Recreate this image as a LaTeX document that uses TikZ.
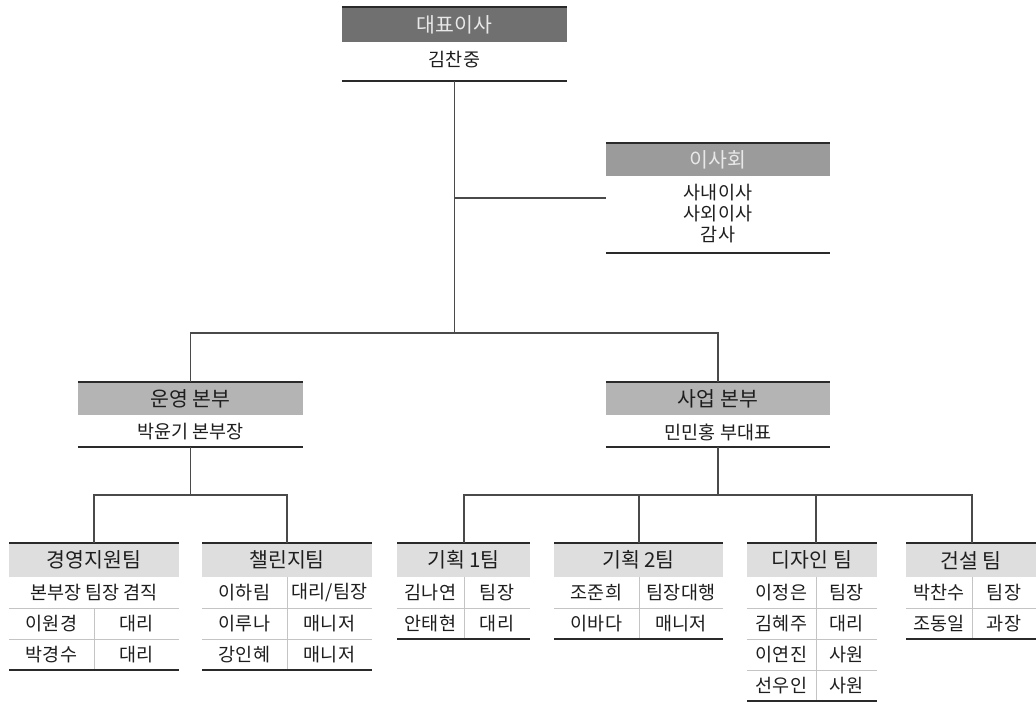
\documentclass[tikz,border=0pt]{standalone}
\usepackage{fontspec}
\setmainfont{Noto Sans CJK KR}
\definecolor{bandA}{HTML}{707070}
\definecolor{bandB}{HTML}{9B9B9B}
\definecolor{bandC}{HTML}{B4B4B4}
\definecolor{bandD}{HTML}{DEDEDE}
\definecolor{lineC}{HTML}{2A2A2A}
\definecolor{connC}{HTML}{4A4A4A}
\definecolor{rowC}{HTML}{C4C4C4}
\definecolor{txtC}{HTML}{1E1E1E}
\definecolor{txtW}{HTML}{E8E8E8}
\newcommand\teamhead[5]{%
  \node[thd, minimum width={#3-#2}] (#1) at ({(#2+#3)/2},543) {#5};
  \draw[boxline] (#2,543) -- (#3,543);
  \coordinate (#1top) at (#4,543);}
\newcommand\teamrow[7]{%
  \node[bd] (#1n#5) at ({(#2+#4)/2},{561.5+31*#5}) {#6};
  \node[bd] (#1p#5) at ({(#4+#3)/2},{561.5+31*#5}) {#7};}
\newcommand\teamgrid[5]{%
  \foreach \k in {2,...,#4} {\draw[rowline] (#1,{546+31*\k}) -- (#2,{546+31*\k});}
  \draw[rowline] (#3,#5) -- (#3,{577+31*#4});
  \draw[boxline] (#1,{577+31*#4}) -- (#2,{577+31*#4});}
\begin{document}
\begin{tikzpicture}[x=1pt,y=-1pt,
  boxline/.style={draw=lineC, line width=2pt},
  conn/.style={draw=connC, line width=1.5pt},
  rowline/.style={draw=rowC, line width=1pt},
  hd/.style={inner sep=0pt, anchor=north, font=\fontsize{20.5}{21}\selectfont},
  thd/.style={hd, fill=bandD, text=txtC, minimum height=34},
  bd/.style={inner sep=0pt, text=txtC, font=\fontsize{18.5}{19}\selectfont},
]
\useasboundingbox (0,0) rectangle (1036,702);
\fill[white] (0,0) rectangle (1036,702);

% CEO
\node[hd, fill=bandA, text=txtW, minimum width=225, minimum height=35] (ceo) at (454.5,7) {대표이사};
\draw[boxline] (ceo.north west) -- (ceo.north east);
\node[bd] (ceoName) at (454.5,60) {김찬중};
\coordinate (ceoBot) at (454.5,81);
\draw[boxline] (ceo.west |- ceoBot) -- (ceo.east |- ceoBot);

% Board
\node[hd, fill=bandB, text=txtW, minimum width=224, minimum height=33] (brd) at (718,143) {이사회};
\draw[boxline] (brd.north west) -- (brd.north east);
\node[bd] (brd1) at (718,193) {사내이사};
\node[bd] (brd2) at (718,214) {사외이사};
\node[bd] (brd3) at (718,235) {감사};
\coordinate (brdBot) at (718,253);
\draw[boxline] (brd.west |- brdBot) -- (brd.east |- brdBot);
\coordinate (brdIn) at (606,198);

% Divisions
\node[hd, fill=bandC, text=txtC, minimum width=225, minimum height=33] (op) at (190.5,382) {운영 본부};
\draw[boxline] (op.north west) -- (op.north east);
\node[bd] (opName) at (190.5,432) {박윤기 본부장};
\coordinate (opBot) at (190.5,447);
\draw[boxline] (op.west |- opBot) -- (op.east |- opBot);

\node[hd, fill=bandC, text=txtC, minimum width=224, minimum height=33] (biz) at (718,382) {사업 본부};
\draw[boxline] (biz.north west) -- (biz.north east);
\node[bd] (bizName) at (718,432) {민민홍 부대표};
\coordinate (bizBot) at (718,447);
\draw[boxline] (biz.west |- bizBot) -- (biz.east |- bizBot);

% Teams
\teamhead{t1}{9}{179}{94}{경영지원팀}
\node[bd] (t1r1) at (94,592.5) {본부장 팀장 겸직};
\teamrow{t1}{9}{179}{94}{2}{이원경}{대리}
\teamrow{t1}{9}{179}{94}{3}{박경수}{대리}
\teamgrid{9}{179}{94}{3}{608}

\teamhead{t2}{202}{372}{287}{챌린지팀}
\teamrow{t2}{202}{372}{287}{1}{이하림}{대리/팀장}
\teamrow{t2}{202}{372}{287}{2}{이루나}{매니저}
\teamrow{t2}{202}{372}{287}{3}{강인혜}{매니저}
\teamgrid{202}{372}{287}{3}{577}

\teamhead{t3}{397}{530}{464}{기획 1팀}
\teamrow{t3}{397}{530}{464}{1}{김나연}{팀장}
\teamrow{t3}{397}{530}{464}{2}{안태현}{대리}
\teamgrid{397}{530}{464}{2}{577}

\teamhead{t4}{554}{723}{639}{기획 2팀}
\teamrow{t4}{554}{723}{639}{1}{조준희}{팀장대행}
\teamrow{t4}{554}{723}{639}{2}{이바다}{매니저}
\teamgrid{554}{723}{639}{2}{577}

\teamhead{t5}{747}{877}{816}{디자인 팀}
\teamrow{t5}{747}{877}{816}{1}{이정은}{팀장}
\teamrow{t5}{747}{877}{816}{2}{김혜주}{대리}
\teamrow{t5}{747}{877}{816}{3}{이연진}{사원}
\teamrow{t5}{747}{877}{816}{4}{선우인}{사원}
\teamgrid{747}{877}{816}{4}{577}

\teamhead{t6}{906}{1036}{972}{건설 팀}
\teamrow{t6}{906}{1036}{972}{1}{박찬수}{팀장}
\teamrow{t6}{906}{1036}{972}{2}{조동일}{과장}
\teamgrid{906}{1036}{972}{2}{577}

% Connectors
\coordinate (hub) at (454.5,333);
\draw[conn] (ceoBot) -- (hub);
\draw[conn] (ceoBot |- brdIn) -- (brdIn);
\draw[conn] (op.north) |- (hub) -| (biz.north);

\coordinate (opHub) at (190.5,495);
\draw[conn] (opBot) -- (opHub);
\draw[conn] (t1top) |- (opHub) -| (t2top);

\coordinate (bizHub) at (718,495);
\draw[conn] (bizBot) -- (bizHub);
\draw[conn] (t3top) |- (bizHub) -| (t6top);
\draw[conn] (t4top) -- (t4top |- bizHub);
\draw[conn] (t5top) -- (t5top |- bizHub);
\end{tikzpicture}
\end{document}
